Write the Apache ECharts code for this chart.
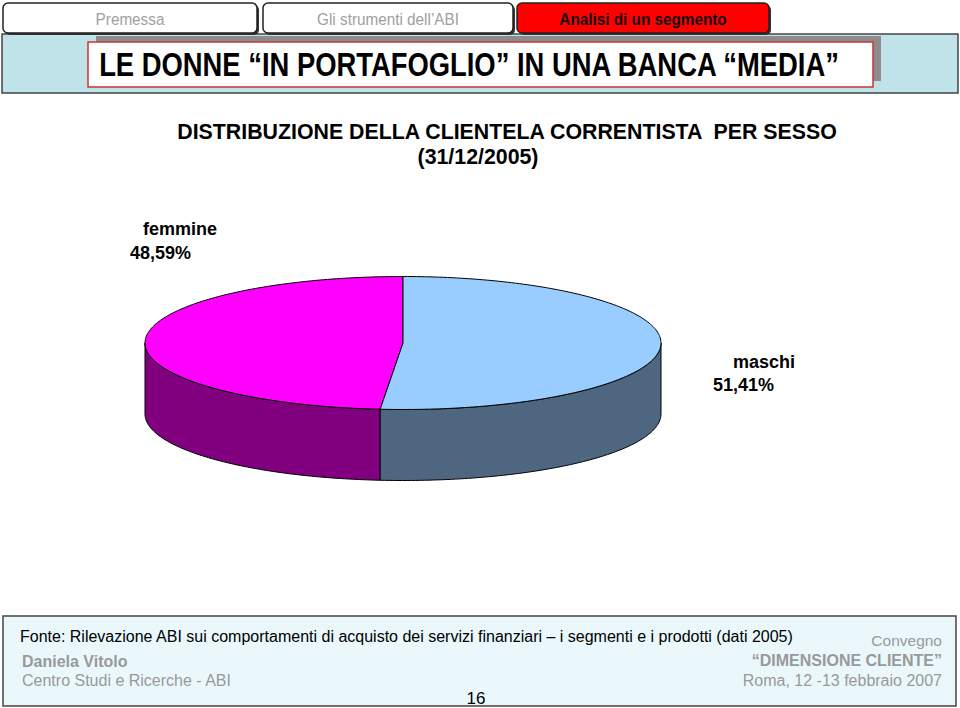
<!DOCTYPE html>
<html>
<head>
<meta charset="utf-8">
<script src="https://cdn.jsdelivr.net/npm/echarts@6/dist/echarts.min.js"></script>
<style>
html,body{margin:0;padding:0;background:#fff;}
#c{width:960px;height:708px;}
</style>
</head>
<body>
<div id="c"></div>
<script>
// ---- data ----
var categories = ['femmine', 'maschi'];
var values = [48.59, 51.41];
var valueLabels = ['48,59%', '51,41%'];

// ---- style ----
var topColors = ['#FF00FF', '#99CCFF'];
var sideColors = ['#800080', '#4F6680'];
var labelPos = [
  {nameX: 143, nameY: 229, valX: 130, valY: 253},
  {nameX: 733, nameY: 362, valX: 713, valY: 385}
];
var PIE = {cx: 403, cy: 343, rx: 258, ry: 66.5, depth: 71};

var total = values.reduce(function (a, b) { return a + b; }, 0);

function pt(theta, dy) {
  var r = theta * Math.PI / 180;
  return [PIE.cx + PIE.rx * Math.sin(r), PIE.cy - PIE.ry * Math.cos(r) + (dy || 0)];
}
function arc(a, b, dy) {
  var pts = [];
  var n = Math.max(2, Math.ceil(Math.abs(b - a)));
  for (var k = 0; k <= n; k++) pts.push(pt(a + (b - a) * k / n, dy));
  return pts;
}

function renderItem(params, api) {
  var i = params.dataIndex;
  var cum = 0;
  for (var j = 0; j < i; j++) cum += values[j] / total * 360;
  var span = api.value(0) / total * 360;
  var a = 360 - cum - span, b = 360 - cum;
  var children = [];
  var lo = Math.max(a, 90), hi = Math.min(b, 270);
  if (lo < hi) {
    var side = arc(lo, hi, 0).concat(arc(hi, lo, PIE.depth));
    children.push({type: 'polygon', shape: {points: side},
      style: {fill: sideColors[i], stroke: '#000', lineWidth: 1}});
  }
  var top = [[PIE.cx, PIE.cy]].concat(arc(a, b, 0));
  children.push({type: 'polygon', shape: {points: top},
    style: {fill: topColors[i], stroke: '#000', lineWidth: 1}});
  var lp = labelPos[i];
  children.push({type: 'text', style: {x: lp.nameX, y: lp.nameY, text: categories[i],
    font: 'bold 18px "Liberation Sans", Arial, sans-serif', fill: '#000', textAlign: 'left', textVerticalAlign: 'middle'}});
  children.push({type: 'text', style: {x: lp.valX, y: lp.valY, text: valueLabels[i],
    font: 'bold 18px "Liberation Sans", Arial, sans-serif', fill: '#000', textAlign: 'left', textVerticalAlign: 'middle'}});
  return {type: 'group', children: children};
}

var SANS = '"Liberation Sans", Arial, sans-serif';

function txt(x, y, text, font, fill, align, sx) {
  return {type: 'text', x: x, y: y, scaleX: sx || 1,
    style: {x: 0, y: 0, text: text, font: font, fill: fill, textAlign: align, textVerticalAlign: 'middle'}};
}

function tab(x, w, fill, text, color, bold) {
  return [
    {type: 'rect', shape: {x: x + 2, y: 5, width: w, height: 30, r: 5}, style: {fill: '#333'}},
    {type: 'rect', shape: {x: x, y: 3, width: w, height: 30, r: 5}, style: {fill: fill, stroke: '#222', lineWidth: 1.5}},
    txt(x + w / 2, 19, text, (bold ? 'bold ' : '') + '17px ' + SANS, color, 'center', 0.9)
  ];
}

var graphics = [];
// header band
graphics.push({type: 'rect', shape: {x: 2, y: 34, width: 956, height: 59}, style: {fill: '#BFE3E8', stroke: '#444', lineWidth: 1.5}});
graphics = graphics.concat(tab(3, 254, '#FFFFFF', 'Premessa', '#A0A0A0', false));
graphics = graphics.concat(tab(263, 250, '#FFFFFF', 'Gli strumenti dell\u2019ABI', '#A0A0A0', false));
graphics = graphics.concat(tab(517, 252, '#FF0000', 'Analisi di un segmento', '#111', true));
graphics.push({type: 'rect', shape: {x: 96, y: 36, width: 785, height: 45}, style: {fill: '#8C8C8C'}});
graphics.push({type: 'rect', shape: {x: 88, y: 42, width: 785, height: 45}, style: {fill: '#FFFFFF', stroke: '#CC3333', lineWidth: 1.5}});
graphics.push(txt(469, 65, 'LE DONNE \u201CIN PORTAFOGLIO\u201D IN UNA BANCA \u201CMEDIA\u201D', 'bold 33px ' + SANS, '#000', 'center', 0.83));
// chart title
graphics.push(txt(507, 131, 'DISTRIBUZIONE DELLA CLIENTELA CORRENTISTA  PER SESSO', 'bold 22px ' + SANS, '#000', 'center', 0.97));
graphics.push(txt(478, 156, '(31/12/2005)', 'bold 22px ' + SANS, '#000', 'center', 0.97));
// footer
graphics.push({type: 'rect', shape: {x: 3, y: 616, width: 953, height: 90}, style: {fill: '#EAF8FC', stroke: '#444', lineWidth: 1.5}});
graphics.push(txt(20, 636, 'Fonte: Rilevazione ABI sui comportamenti di acquisto dei servizi finanziari \u2013 i segmenti e i prodotti (dati 2005)', '16px ' + SANS, '#000', 'left', 1));
graphics.push(txt(22, 661, 'Daniela Vitolo', 'bold 16px ' + SANS, '#999', 'left', 1));
graphics.push(txt(22, 680, 'Centro Studi e Ricerche - ABI', '16px ' + SANS, '#999', 'left', 1));
graphics.push(txt(476, 698, '16', '17px ' + SANS, '#000', 'center', 1));
graphics.push(txt(942, 640, 'Convegno', '15.5px ' + SANS, '#999', 'right', 1));
graphics.push(txt(942, 660, '\u201CDIMENSIONE CLIENTE\u201D', 'bold 16px ' + SANS, '#999', 'right', 1));
graphics.push(txt(942, 680, 'Roma, 12 -13 febbraio 2007', '16px ' + SANS, '#999', 'right', 1));

var chart = echarts.init(document.getElementById('c'), null, {renderer: 'svg'});
chart.setOption({
  animation: false,
  backgroundColor: '#fff',
  graphic: graphics,
  series: [{
    type: 'custom',
    coordinateSystem: 'none',
    renderItem: renderItem,
    data: categories.map(function (c, i) { return {name: c, value: [values[i]]}; })
  }]
});
</script>
</body>
</html>
